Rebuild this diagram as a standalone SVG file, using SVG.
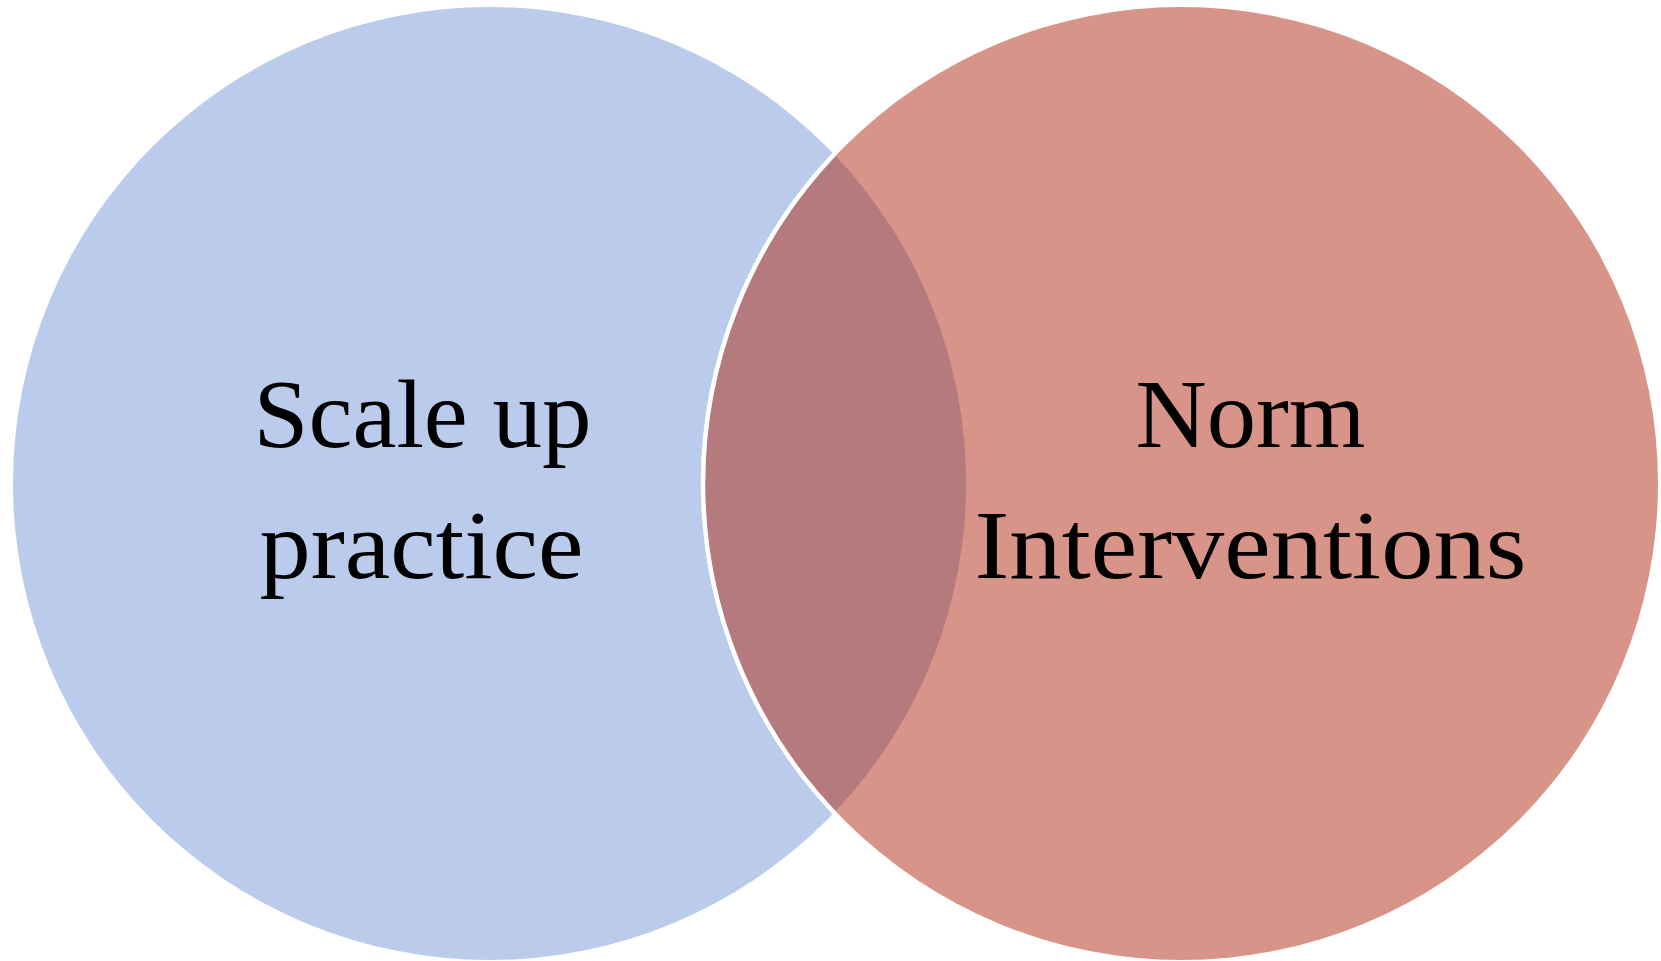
<svg xmlns="http://www.w3.org/2000/svg" width="1661" height="961" viewBox="0 0 1661 961">
  <style>
    .lbl { font-family: "Liberation Serif", "Times New Roman", serif; font-size: 97px; fill: #000000; text-anchor: middle; }
  </style>
  <defs>
    <clipPath id="clipLeft">
      <circle cx="489.5" cy="483.5" r="476.5"/>
    </clipPath>
  </defs>
  <rect width="1661" height="961" fill="#ffffff"/>
  <g id="set-scale-up">
    <circle cx="489.5" cy="483.5" r="476.5" fill="#BBCBEB"/>
  </g>
  <g id="set-norm">
    <circle cx="1181.5" cy="483.5" r="476.5" fill="#D9948A"/>
  </g>
  <g id="overlap">
    <path d="M 835.5 155.8 A 476.5 476.5 0 0 1 835.5 811.2 A 476.5 476.5 0 0 1 835.5 155.8 Z" fill="#B57A7E"/>
    <circle cx="1181.5" cy="483.5" r="478.5" fill="none" stroke="#ffffff" stroke-width="4.5" clip-path="url(#clipLeft)"/>
  </g>
  <g id="labels">
    <text class="lbl" x="422.5" y="447" textLength="338" lengthAdjust="spacingAndGlyphs">Scale up</text>
    <text class="lbl" x="421.5" y="578" textLength="324" lengthAdjust="spacingAndGlyphs">practice</text>
    <text class="lbl" x="1250.5" y="447" textLength="230" lengthAdjust="spacingAndGlyphs">Norm</text>
    <text class="lbl" x="1250.5" y="578" textLength="552" lengthAdjust="spacingAndGlyphs">Interventions</text>
  </g>
</svg>
